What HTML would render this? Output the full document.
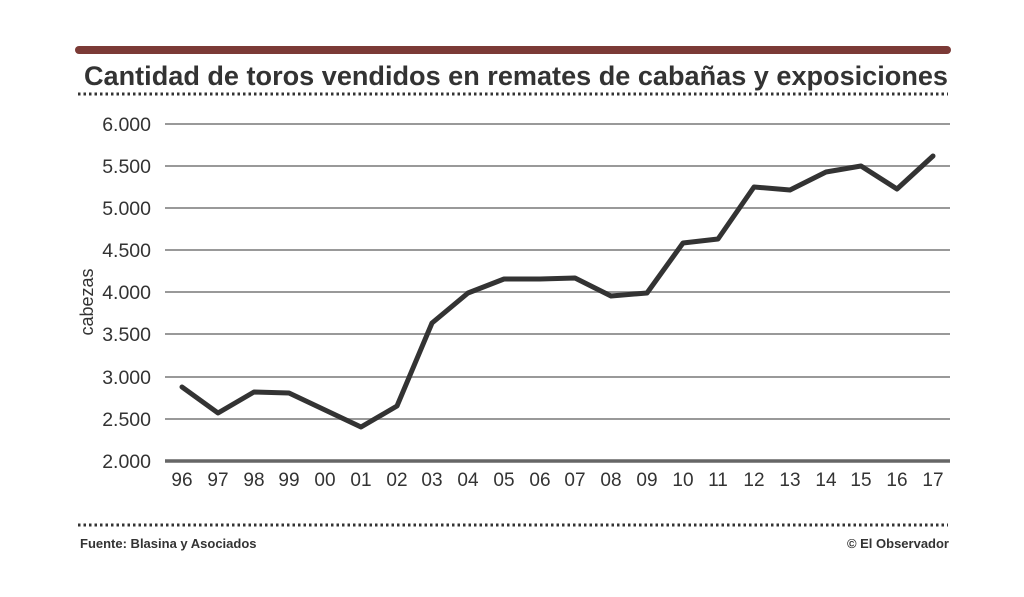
<!DOCTYPE html>
<html><head><meta charset="utf-8"><style>
html,body{margin:0;padding:0;background:#fff;}
svg{display:block;}
</style></head><body>
<svg width="1024" height="597" xmlns="http://www.w3.org/2000/svg" font-family="Liberation Sans, sans-serif">
<rect width="1024" height="597" fill="#fff"/>
<rect x="75" y="46" width="876" height="8" rx="4" fill="#7b3a36"/>
<text x="84" y="85" font-size="27" font-weight="bold" fill="#333" textLength="864" lengthAdjust="spacingAndGlyphs">Cantidad de toros vendidos en remates de cabañas y exposiciones</text>
<line x1="78" y1="94" x2="948" y2="94" stroke="#333" stroke-width="3" stroke-dasharray="2.5,3"/>
<line x1="78" y1="525" x2="948" y2="525" stroke="#333" stroke-width="3" stroke-dasharray="2.5,3"/>
<g stroke="#999" stroke-width="2">
<line x1="165" y1="124" x2="950" y2="124"/>
<line x1="165" y1="166" x2="950" y2="166"/>
<line x1="165" y1="208" x2="950" y2="208"/>
<line x1="165" y1="250" x2="950" y2="250"/>
<line x1="165" y1="292" x2="950" y2="292"/>
<line x1="165" y1="334" x2="950" y2="334"/>
<line x1="165" y1="377" x2="950" y2="377"/>
<line x1="165" y1="419" x2="950" y2="419"/>
</g>
<line x1="165" y1="461" x2="950" y2="461" stroke="#666" stroke-width="3.5"/>
<g font-size="19.5" fill="#333" text-anchor="end">
<text x="151" y="131">6.000</text>
<text x="151" y="173">5.500</text>
<text x="151" y="215">5.000</text>
<text x="151" y="257">4.500</text>
<text x="151" y="299">4.000</text>
<text x="151" y="341">3.500</text>
<text x="151" y="384">3.000</text>
<text x="151" y="426">2.500</text>
<text x="151" y="468">2.000</text>
</g>
<text transform="translate(93,302) rotate(-90)" font-size="18" fill="#333" text-anchor="middle">cabezas</text>
<g font-size="19" fill="#333" text-anchor="middle">
<text x="182" y="486">96</text><text x="218" y="486">97</text><text x="254" y="486">98</text><text x="289" y="486">99</text><text x="325" y="486">00</text><text x="361" y="486">01</text><text x="397" y="486">02</text><text x="432" y="486">03</text><text x="468" y="486">04</text><text x="504" y="486">05</text><text x="540" y="486">06</text><text x="575" y="486">07</text><text x="611" y="486">08</text><text x="647" y="486">09</text><text x="683" y="486">10</text><text x="718" y="486">11</text><text x="754" y="486">12</text><text x="790" y="486">13</text><text x="826" y="486">14</text><text x="861" y="486">15</text><text x="897" y="486">16</text><text x="933" y="486">17</text>
</g>
<polyline fill="none" stroke="#333" stroke-width="5" stroke-linejoin="round" stroke-linecap="round" points="182,387 218,413 254,392 289,393 325,410 361,427 397,406 432,323 468,293 504,279 540,279 575,278 611,296 647,293 683,243 718,239 754,187 790,190 826,172 861,166 897,189 933,156"/>
<text x="80" y="548" font-size="13" font-weight="bold" fill="#333">Fuente: Blasina y Asociados</text>
<text x="949" y="548" font-size="13" font-weight="bold" fill="#333" text-anchor="end">© El Observador</text>
</svg>
</body></html>
